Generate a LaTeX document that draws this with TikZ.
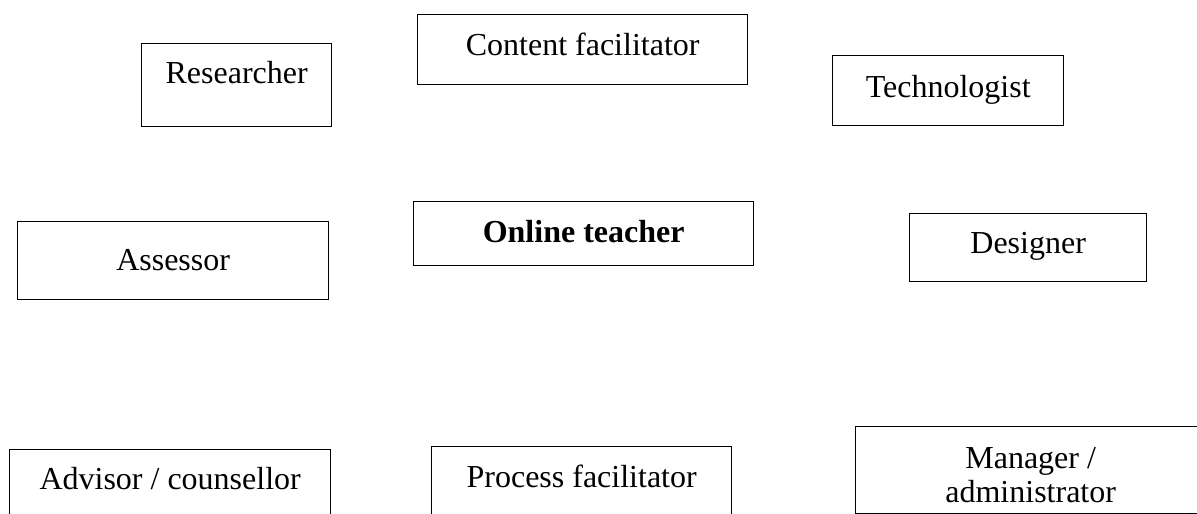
\documentclass[tikz,border=0pt]{standalone}
\usepackage{fontspec}
\setmainfont{Liberation Serif}

\begin{document}
\begin{tikzpicture}[x=0.375pt,y=-0.375pt,role/.style={draw,line width=0.5pt,rectangle,anchor=north west,inner sep=0,align=center,font=\fontsize{12}{12.75}\selectfont}]
\path[use as bounding box,clip] (0,0) rectangle (1197,514);
\foreach[evaluate=\w as \nw using {\w*0.375},evaluate=\b as \nb using {\b*0.375},evaluate=\h as \nd using {(\h-\b)*0.375}] \n/\x/\y/\w/\h/\b/\t in {
  researcher/141/43/190/83/40/Researcher,
  content/417/14/330/70/41/Content facilitator,
  technologist/832/55/231/70/42/Technologist,
  assessor/17/221/311/78/49/Assessor,
  teacher/413/201/340/64/41/{\textbf{Online teacher}},
  designer/909/213/237/68/40/Designer,
  advisor/9/449/321/90/40/{Advisor / counsellor},
  process/431/446/300/90/41/Process facilitator,
  manager/855/426/350/87/76/{Manager /\\administrator}}
  \node[role,minimum width=\nw pt,text height=\nb pt,text depth=\nd pt] (\n) at (\x,\y) {\t};
\end{tikzpicture}
\end{document}
